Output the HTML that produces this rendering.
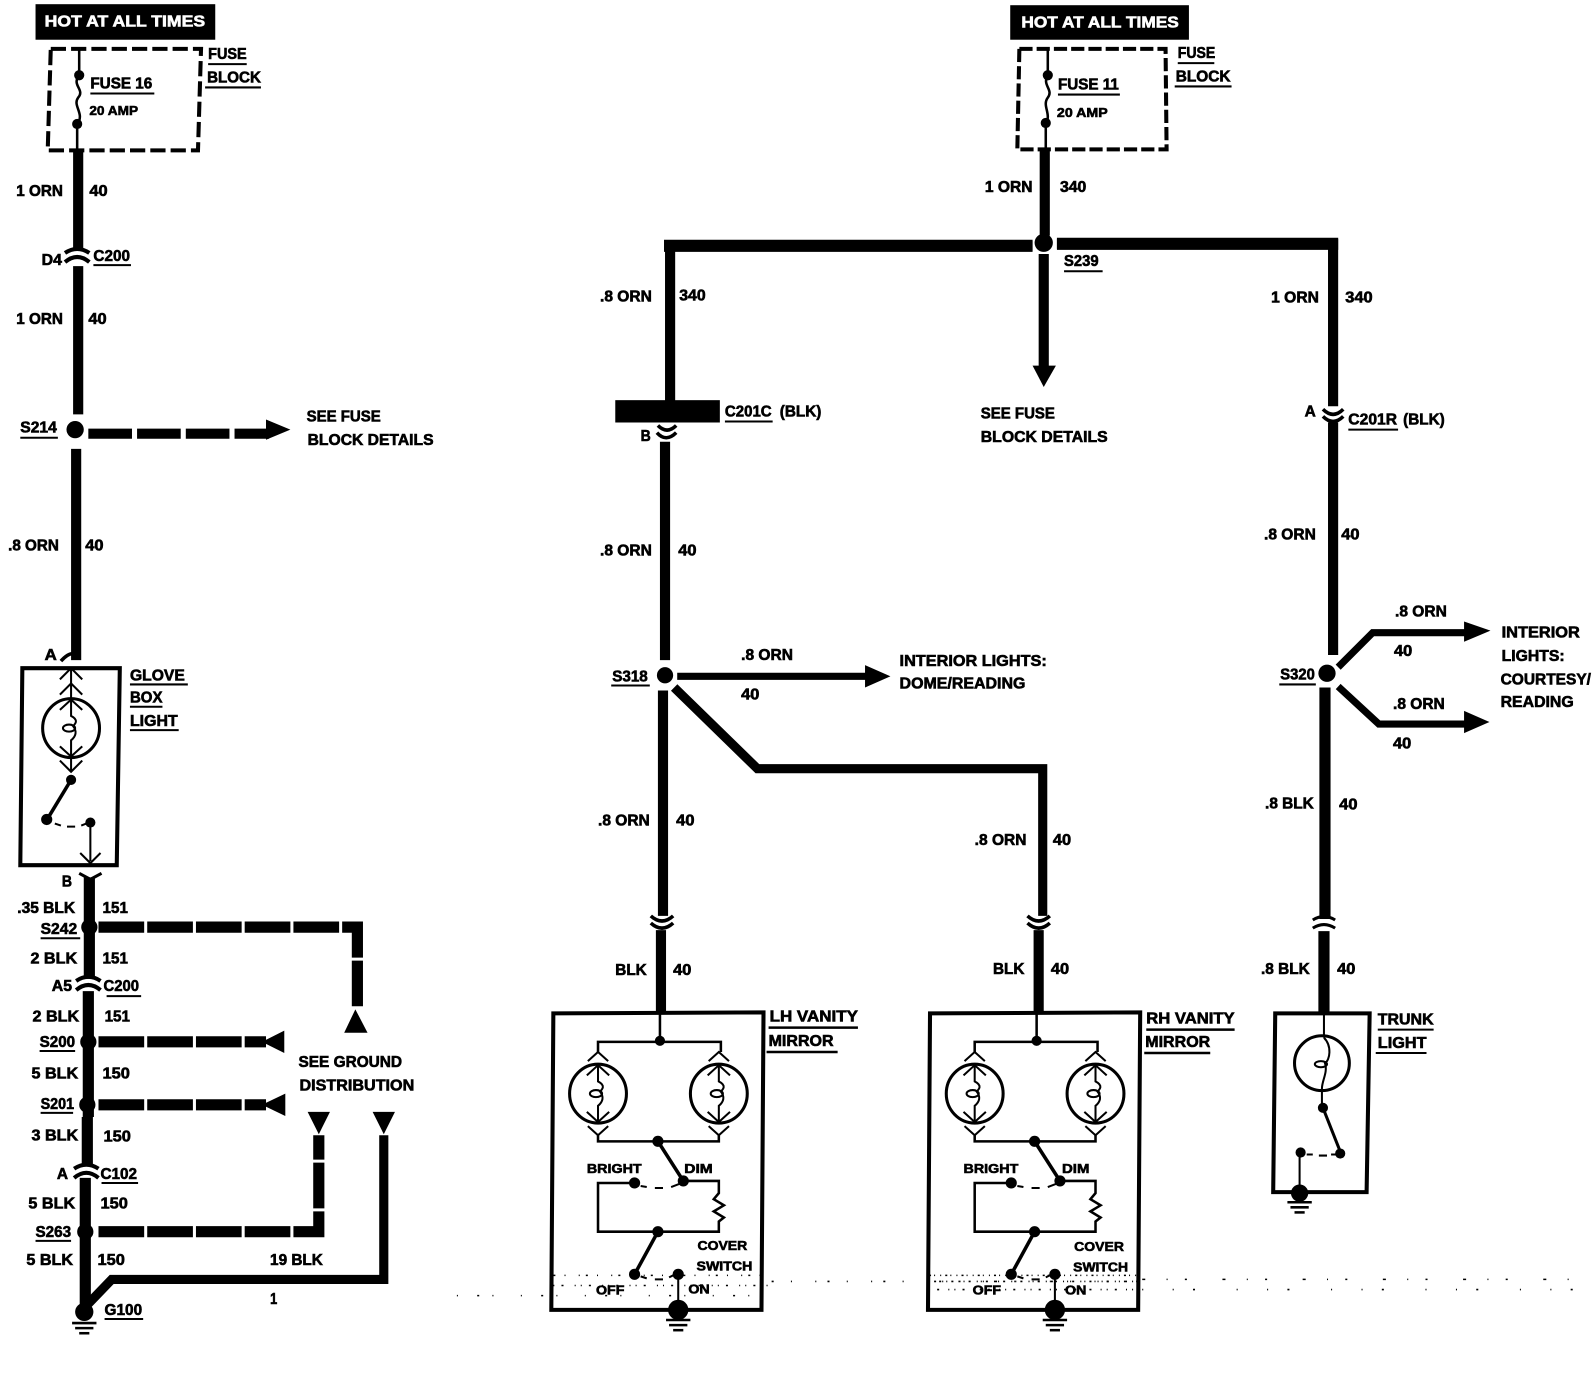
<!DOCTYPE html>
<html><head><meta charset="utf-8"><style>
html,body{margin:0;padding:0;background:#fff}
svg{display:block}
text{font-family:"Liberation Sans",sans-serif;font-weight:bold;font-size:15px;fill:#000;stroke:#000;stroke-width:.6}
.w{fill:#fff;stroke:#fff}
.s{font-size:13px}
.b{fill:none;stroke:#000}
</style></head><body>
<svg xmlns="http://www.w3.org/2000/svg" width="1592" height="1376" viewBox="0 0 1568 1355">
<defs>
<g id="conn" fill="none" stroke="#000" stroke-width="4"><path d="M-12 -2Q0 -10 12 -2"/><path d="M-12 7Q0 -3 12 7"/></g>
<g id="chevU" fill="none" stroke="#000" stroke-width="2"><path d="M-11 9L0 -2L11 9M0 -2V16"/></g>
<g id="chevD" fill="none" stroke="#000" stroke-width="2"><path d="M-11 -9L0 2L11 -9M0 2V-16"/></g>
<g id="gnd" stroke="#000" fill="none"><path d="M-12 0H12" stroke-width="2.5"/><path d="M-9 5H9" stroke-width="2.5"/><path d="M-5 10H5" stroke-width="2.5"/></g>
<g id="bulb" fill="none" stroke="#000"><ellipse cx="0" cy="0" rx="28" ry="29" stroke-width="3"/><path d="M0 -27V-12C8 -8 4 -4 2 -2C6 3 5 8 0 12V27" stroke-width="2"/><ellipse cx="-2" cy="0" rx="6" ry="3.5" stroke-width="2"/><path d="M-11 -18L0 -28L11 -18M-11 18L0 28L11 18" stroke-width="2"/></g>
<g id="van" fill="none" stroke="#000">
<path d="M2 0L209 -1L207 292L0 292Z" stroke-width="4"/>
<path d="M107 0V28M46 38V28H167V38" stroke-width="2.5"/>
<path d="M46 120V126H165V120" stroke-width="2.5"/>
<path d="M36 47L46 38L56 47M155 47L165 38L175 47M36 111L46 120L56 111M155 111L165 120L175 111" stroke-width="2"/>
<use href="#bulb" x="46" y="79"/><use href="#bulb" x="165" y="79"/>
<circle cx="107" cy="27" r="5" fill="#000" stroke="none"/>
<circle cx="105" cy="126" r="5.5" fill="#000" stroke="none"/>
<path d="M105 126L130 165" stroke-width="3.5"/>
<circle cx="130" cy="165" r="5.5" fill="#000" stroke="none"/>
<circle cx="82" cy="167" r="5.5" fill="#000" stroke="none"/>
<path d="M88 170L94 171M102 172H110M118 171L126 168" stroke-width="2"/>
<path d="M82 167H46V215H165V205L170 201L160 195L170 189L160 183L165 177V165H130" stroke-width="2.5"/>
<circle cx="105" cy="215" r="5.5" fill="#000" stroke="none"/>
<path d="M105 215L82 257" stroke-width="3.5"/>
<circle cx="82" cy="257" r="5.5" fill="#000" stroke="none"/>
<circle cx="125" cy="257" r="5.5" fill="#000" stroke="none"/>
<path d="M88 259L94 261M102 262H110M116 260L122 257" stroke-width="2"/>
<path d="M125 257V290" stroke-width="2"/>
<circle cx="125" cy="292" r="10" fill="#000" stroke="none"/>
<use href="#gnd" x="125" y="302"/>
</g>
</defs>

<!-- LEFT -->
<rect x="35" y="4" width="177" height="35"/>
<text class="w" x="44" y="26" textLength="158" lengthAdjust="spacingAndGlyphs">HOT AT ALL TIMES</text>
<path class="b" d="M50 48H198L195 148H47Z" stroke-width="4" stroke-dasharray="15 5"/>
<path class="b" d="M78 48V74C70 84 84 88 77 96C71 104 84 112 76 122V148" stroke-width="2.5"/>
<circle cx="78" cy="74" r="5"/><circle cx="76" cy="122" r="5"/>
<text x="89" y="87" textLength="61" lengthAdjust="spacingAndGlyphs">FUSE 16</text><path class="b" d="M89 92H152" stroke-width="2"/>
<text class="s" x="88" y="113" textLength="48" lengthAdjust="spacingAndGlyphs">20 AMP</text>
<text x="205" y="58" textLength="38" lengthAdjust="spacingAndGlyphs">FUSE</text><path class="b" d="M205 63H243" stroke-width="2"/>
<text x="204" y="81" textLength="53" lengthAdjust="spacingAndGlyphs">BLOCK</text><path class="b" d="M202 86H257" stroke-width="2"/>
<path class="b" d="M77 148V245M77 262V408" stroke-width="10"/>
<use href="#conn" x="76" y="251"/>
<circle cx="74" cy="423" r="8.5"/>
<path class="b" d="M75 442V650" stroke-width="10"/>
<path class="b" d="M87 427H265" stroke-width="10" stroke-dasharray="43 5"/>
<path d="M262 413L286 423L262 433Z"/>
<text x="16" y="193" textLength="46" lengthAdjust="spacingAndGlyphs">1 ORN</text><text x="88" y="193" textLength="18" lengthAdjust="spacingAndGlyphs">40</text>
<text x="41" y="261" textLength="20" lengthAdjust="spacingAndGlyphs">D4</text><text x="92" y="257" textLength="36" lengthAdjust="spacingAndGlyphs">C200</text><path class="b" d="M92 261H129" stroke-width="2"/>
<text x="16" y="319" textLength="46" lengthAdjust="spacingAndGlyphs">1 ORN</text><text x="87" y="319" textLength="18" lengthAdjust="spacingAndGlyphs">40</text>
<text x="20" y="426" textLength="36" lengthAdjust="spacingAndGlyphs">S214</text><path class="b" d="M20 431H57" stroke-width="2"/>
<text x="8" y="542" textLength="50" lengthAdjust="spacingAndGlyphs">.8 ORN</text><text x="84" y="542" textLength="18" lengthAdjust="spacingAndGlyphs">40</text>
<text x="302" y="415" textLength="73" lengthAdjust="spacingAndGlyphs">SEE FUSE</text><text x="303" y="438" textLength="124" lengthAdjust="spacingAndGlyphs">BLOCK DETAILS</text>

<!-- Glove box -->
<path class="b" d="M22 658H118L115 852H20Z" stroke-width="4"/>
<path class="b" d="M60 651Q68 642 74 644" stroke-width="3.5"/>
<text x="44" y="650" textLength="12" lengthAdjust="spacingAndGlyphs">A</text>
<use href="#chevU" x="70" y="660"/><use href="#chevU" x="70" y="675"/>
<use href="#bulb" x="70" y="717"/>
<use href="#chevD" x="70" y="758"/>
<circle cx="70" cy="768" r="5"/><path class="b" d="M70 768L47 806" stroke-width="3.5"/>
<circle cx="46" cy="807" r="5.5"/><circle cx="89" cy="810" r="5"/>
<path class="b" d="M54 811L60 813M66 814H74M80 813L85 811" stroke-width="2"/>
<path class="b" d="M89 810V848M79 840L89 850L99 840" stroke-width="2"/>
<path class="b" d="M78 860L89 866L100 860" stroke-width="3"/>
<text x="61" y="873" textLength="10" lengthAdjust="spacingAndGlyphs">B</text>

<path class="b" d="M88 864V964M87 976V1100M86 1100V1148M84 1160V1290" stroke-width="11"/>
<use href="#conn" x="87" y="968"/><use href="#conn" x="85" y="1153"/>
<circle cx="88" cy="913" r="8"/><circle cx="87" cy="1026" r="8"/><circle cx="86" cy="1088" r="8"/><circle cx="84" cy="1213" r="8"/>
<circle cx="83" cy="1292" r="9"/><use href="#gnd" x="83" y="1303"/>
<path class="b" d="M97 913H352V993" stroke-width="11" stroke-dasharray="45 3"/>
<path d="M350 994L339 1017H362Z"/>
<path class="b" d="M97 1026H262" stroke-width="11" stroke-dasharray="45 3"/><path d="M258 1026L280 1015V1037Z"/>
<path class="b" d="M97 1088H262" stroke-width="11" stroke-dasharray="45 3"/><path d="M258 1088L281 1077V1099Z"/>
<path class="b" d="M97 1213H314V1118" stroke-width="11" stroke-dasharray="45 3"/><path d="M303 1095H325L314 1117Z"/>
<path class="b" d="M85 1286L110 1260H378V1118" stroke-width="9"/><path d="M367 1095H389L378 1117Z"/>

<text x="17" y="899" textLength="57" lengthAdjust="spacingAndGlyphs">.35 BLK</text><text x="101" y="899" textLength="25" lengthAdjust="spacingAndGlyphs">151</text>
<text x="40" y="920" textLength="36" lengthAdjust="spacingAndGlyphs">S242</text><path class="b" d="M40 924H79" stroke-width="2"/>
<text x="30" y="949" textLength="46" lengthAdjust="spacingAndGlyphs">2 BLK</text><text x="101" y="949" textLength="25" lengthAdjust="spacingAndGlyphs">151</text>
<text x="51" y="976" textLength="20" lengthAdjust="spacingAndGlyphs">A5</text><text x="102" y="976" textLength="35" lengthAdjust="spacingAndGlyphs">C200</text><path class="b" d="M105 981H139" stroke-width="2"/>
<text x="32" y="1006" textLength="46" lengthAdjust="spacingAndGlyphs">2 BLK</text><text x="103" y="1006" textLength="25" lengthAdjust="spacingAndGlyphs">151</text>
<text x="39" y="1031" textLength="35" lengthAdjust="spacingAndGlyphs">S200</text><path class="b" d="M39 1035H74" stroke-width="2"/>
<text x="31" y="1062" textLength="46" lengthAdjust="spacingAndGlyphs">5 BLK</text><text x="101" y="1062" textLength="27" lengthAdjust="spacingAndGlyphs">150</text>
<text x="40" y="1092" textLength="33" lengthAdjust="spacingAndGlyphs">S201</text><path class="b" d="M40 1096H72" stroke-width="2"/>
<text x="31" y="1123" textLength="46" lengthAdjust="spacingAndGlyphs">3 BLK</text><text x="102" y="1124" textLength="27" lengthAdjust="spacingAndGlyphs">150</text>
<text x="56" y="1161" textLength="11" lengthAdjust="spacingAndGlyphs">A</text><text x="99" y="1161" textLength="36" lengthAdjust="spacingAndGlyphs">C102</text><path class="b" d="M100 1165H136" stroke-width="2"/>
<text x="28" y="1190" textLength="46" lengthAdjust="spacingAndGlyphs">5 BLK</text><text x="99" y="1190" textLength="27" lengthAdjust="spacingAndGlyphs">150</text>
<text x="35" y="1218" textLength="35" lengthAdjust="spacingAndGlyphs">S263</text><path class="b" d="M35 1222H70" stroke-width="2"/>
<text x="26" y="1246" textLength="46" lengthAdjust="spacingAndGlyphs">5 BLK</text><text x="96" y="1246" textLength="27" lengthAdjust="spacingAndGlyphs">150</text>
<text x="266" y="1246" textLength="52" lengthAdjust="spacingAndGlyphs">19 BLK</text><text x="266" y="1284" textLength="7" lengthAdjust="spacingAndGlyphs">1</text>
<text x="103" y="1295" textLength="37" lengthAdjust="spacingAndGlyphs">G100</text><path class="b" d="M103 1299H141" stroke-width="2"/>
<text x="294" y="1051" textLength="102" lengthAdjust="spacingAndGlyphs">SEE GROUND</text><text x="295" y="1074" textLength="113" lengthAdjust="spacingAndGlyphs">DISTRIBUTION</text>
<text x="128" y="670" textLength="54" lengthAdjust="spacingAndGlyphs">GLOVE</text><path class="b" d="M128 674H185" stroke-width="2"/>
<text x="128" y="692" textLength="32" lengthAdjust="spacingAndGlyphs">BOX</text><path class="b" d="M128 696H160" stroke-width="2"/>
<text x="128" y="715" textLength="47" lengthAdjust="spacingAndGlyphs">LIGHT</text><path class="b" d="M128 719H176" stroke-width="2"/>

<!-- MIDDLE TOP -->
<rect x="995" y="5" width="176" height="34"/>
<text class="w" x="1006" y="27" textLength="155" lengthAdjust="spacingAndGlyphs">HOT AT ALL TIMES</text>
<path class="b" d="M1004 48H1148L1149 147H1002Z" stroke-width="4" stroke-dasharray="13 4"/>
<path class="b" d="M1032 48V74C1026 84 1038 88 1032 96C1026 104 1036 112 1030 122V148" stroke-width="2.5"/>
<circle cx="1032" cy="74" r="5"/><circle cx="1030" cy="121" r="5"/>
<text x="1042" y="88" textLength="60" lengthAdjust="spacingAndGlyphs">FUSE 11</text><path class="b" d="M1042 93H1103" stroke-width="2"/>
<text class="s" x="1041" y="115" textLength="50" lengthAdjust="spacingAndGlyphs">20 AMP</text>
<text x="1160" y="57" textLength="37" lengthAdjust="spacingAndGlyphs">FUSE</text><path class="b" d="M1160 62H1196" stroke-width="2"/>
<text x="1158" y="80" textLength="54" lengthAdjust="spacingAndGlyphs">BLOCK</text><path class="b" d="M1157 85H1213" stroke-width="2"/>
<path class="b" d="M1029 148V232" stroke-width="10"/>
<circle cx="1028" cy="239" r="9"/>
<path class="b" d="M1017 242H660V395" stroke-width="10"/><path d="M654 236H1017V248H654Z"/>
<path class="b" d="M1041 240H1313V400" stroke-width="10"/><path d="M1041 234H1318V246H1041Z"/>
<path class="b" d="M1028 250V362" stroke-width="10"/><path d="M1017 360H1040L1028 381Z"/>
<text x="970" y="189" textLength="47" lengthAdjust="spacingAndGlyphs">1 ORN</text><text x="1044" y="189" textLength="26" lengthAdjust="spacingAndGlyphs">340</text>
<text x="1048" y="262" textLength="34" lengthAdjust="spacingAndGlyphs">S239</text><path class="b" d="M1048 267H1086" stroke-width="2"/>
<text x="591" y="297" textLength="51" lengthAdjust="spacingAndGlyphs">.8 ORN</text><text x="669" y="296" textLength="26" lengthAdjust="spacingAndGlyphs">340</text>
<text x="1252" y="298" textLength="47" lengthAdjust="spacingAndGlyphs">1 ORN</text><text x="1325" y="298" textLength="27" lengthAdjust="spacingAndGlyphs">340</text>
<rect x="606" y="394" width="103" height="22"/>
<text x="714" y="410" textLength="46" lengthAdjust="spacingAndGlyphs">C201C</text><text x="768" y="410" textLength="41" lengthAdjust="spacingAndGlyphs">(BLK)</text><path class="b" d="M714 415H761" stroke-width="2"/>
<path class="b" d="M648 419Q657 428 666 419M647 426Q656 436 666 426" stroke-width="3.5"/>
<text x="631" y="434" textLength="10" lengthAdjust="spacingAndGlyphs">B</text>
<text x="966" y="412" textLength="73" lengthAdjust="spacingAndGlyphs">SEE FUSE</text><text x="966" y="435" textLength="125" lengthAdjust="spacingAndGlyphs">BLOCK DETAILS</text>
<path class="b" d="M1303 403Q1313 413 1323 403M1303 410Q1313 420 1323 410" stroke-width="3.5"/>
<text x="1285" y="410" textLength="11" lengthAdjust="spacingAndGlyphs">A</text>
<text x="1328" y="418" textLength="48" lengthAdjust="spacingAndGlyphs">C201R</text><text x="1382" y="418" textLength="41" lengthAdjust="spacingAndGlyphs">(BLK)</text><path class="b" d="M1328 423H1377" stroke-width="2"/>

<!-- S318 column -->
<path class="b" d="M655 435V650" stroke-width="10"/>
<circle cx="655" cy="665" r="8"/>
<path class="b" d="M653 680V902M651 916V998" stroke-width="10"/>
<path class="b" d="M641 902Q652 912 663 902M641 909Q652 919 663 909" stroke-width="3.5"/>
<path class="b" d="M667 666H855" stroke-width="7" stroke="#222"/><path d="M852 655L877 666L852 677Z"/>
<path class="b" d="M664 677L746 757H1027V902" stroke-width="9"/>
<path class="b" d="M1023 916V998" stroke-width="10"/>
<path class="b" d="M1012 902Q1023 912 1034 902M1012 909Q1023 919 1034 909" stroke-width="3.5"/>
<text x="591" y="547" textLength="51" lengthAdjust="spacingAndGlyphs">.8 ORN</text><text x="668" y="547" textLength="18" lengthAdjust="spacingAndGlyphs">40</text>
<text x="603" y="671" textLength="35" lengthAdjust="spacingAndGlyphs">S318</text><path class="b" d="M602 675H640" stroke-width="2"/>
<text x="730" y="650" textLength="51" lengthAdjust="spacingAndGlyphs">.8 ORN</text><text x="730" y="689" textLength="18" lengthAdjust="spacingAndGlyphs">40</text>
<text x="886" y="656" textLength="145" lengthAdjust="spacingAndGlyphs">INTERIOR LIGHTS:</text><text x="886" y="678" textLength="124" lengthAdjust="spacingAndGlyphs">DOME/READING</text>
<text x="589" y="813" textLength="51" lengthAdjust="spacingAndGlyphs">.8 ORN</text><text x="666" y="813" textLength="18" lengthAdjust="spacingAndGlyphs">40</text>
<text x="960" y="832" textLength="51" lengthAdjust="spacingAndGlyphs">.8 ORN</text><text x="1037" y="832" textLength="18" lengthAdjust="spacingAndGlyphs">40</text>
<text x="606" y="960" textLength="31" lengthAdjust="spacingAndGlyphs">BLK</text><text x="663" y="960" textLength="18" lengthAdjust="spacingAndGlyphs">40</text>
<text x="978" y="959" textLength="31" lengthAdjust="spacingAndGlyphs">BLK</text><text x="1035" y="959" textLength="18" lengthAdjust="spacingAndGlyphs">40</text>

<!-- Vanity boxes -->
<use href="#van" x="543" y="998"/>
<use href="#van" x="914" y="998"/>
<text class="s" x="578" y="1155" textLength="54" lengthAdjust="spacingAndGlyphs">BRIGHT</text><text class="s" x="674" y="1155" textLength="28" lengthAdjust="spacingAndGlyphs">DIM</text>
<text class="s" x="687" y="1231" textLength="49" lengthAdjust="spacingAndGlyphs">COVER</text><text class="s" x="686" y="1251" textLength="55" lengthAdjust="spacingAndGlyphs">SWITCH</text>
<text class="s" x="587" y="1275" textLength="28" lengthAdjust="spacingAndGlyphs">OFF</text><text class="s" x="678" y="1274" textLength="21" lengthAdjust="spacingAndGlyphs">ON</text>
<text class="s" x="949" y="1155" textLength="54" lengthAdjust="spacingAndGlyphs">BRIGHT</text><text class="s" x="1046" y="1155" textLength="27" lengthAdjust="spacingAndGlyphs">DIM</text>
<text class="s" x="1058" y="1232" textLength="49" lengthAdjust="spacingAndGlyphs">COVER</text><text class="s" x="1057" y="1252" textLength="54" lengthAdjust="spacingAndGlyphs">SWITCH</text>
<text class="s" x="958" y="1275" textLength="28" lengthAdjust="spacingAndGlyphs">OFF</text><text class="s" x="1049" y="1275" textLength="21" lengthAdjust="spacingAndGlyphs">ON</text>
<text x="758" y="1006" textLength="87" lengthAdjust="spacingAndGlyphs">LH VANITY</text><path class="b" d="M757 1012H845" stroke-width="2.5"/>
<text x="757" y="1030" textLength="64" lengthAdjust="spacingAndGlyphs">MIRROR</text><path class="b" d="M755 1036H825" stroke-width="2.5"/>
<text x="1129" y="1008" textLength="87" lengthAdjust="spacingAndGlyphs">RH VANITY</text><path class="b" d="M1129 1014H1216" stroke-width="2.5"/>
<text x="1128" y="1031" textLength="64" lengthAdjust="spacingAndGlyphs">MIRROR</text><path class="b" d="M1127 1037H1192" stroke-width="2.5"/>

<!-- RIGHT -->
<path class="b" d="M1313 416V645" stroke-width="10"/>
<circle cx="1307" cy="663" r="8.5"/>
<path class="b" d="M1305 677V905M1304 917V998" stroke-width="11"/>
<path class="b" d="M1293 906Q1304 899 1315 906M1293 914Q1304 907 1315 914" stroke-width="3"/>
<path class="b" d="M1318 657L1352 623H1445" stroke-width="7"/><path d="M1442 612L1468 621L1442 632Z"/>
<path class="b" d="M1318 676L1358 713H1445" stroke-width="7"/><path d="M1442 700L1467 711L1442 722Z"/>
<text x="1245" y="531" textLength="51" lengthAdjust="spacingAndGlyphs">.8 ORN</text><text x="1321" y="531" textLength="18" lengthAdjust="spacingAndGlyphs">40</text>
<text x="1374" y="607" textLength="51" lengthAdjust="spacingAndGlyphs">.8 ORN</text><text x="1373" y="646" textLength="18" lengthAdjust="spacingAndGlyphs">40</text>
<text x="1372" y="698" textLength="51" lengthAdjust="spacingAndGlyphs">.8 ORN</text><text x="1372" y="737" textLength="18" lengthAdjust="spacingAndGlyphs">40</text>
<text x="1479" y="628" textLength="77" lengthAdjust="spacingAndGlyphs">INTERIOR</text><text x="1479" y="651" textLength="62" lengthAdjust="spacingAndGlyphs">LIGHTS:</text>
<text x="1478" y="674" textLength="89" lengthAdjust="spacingAndGlyphs">COURTESY/</text><text x="1478" y="696" textLength="72" lengthAdjust="spacingAndGlyphs">READING</text>
<text x="1261" y="669" textLength="34" lengthAdjust="spacingAndGlyphs">S320</text><path class="b" d="M1260 674H1296" stroke-width="2"/>
<text x="1246" y="796" textLength="48" lengthAdjust="spacingAndGlyphs">.8 BLK</text><text x="1319" y="797" textLength="18" lengthAdjust="spacingAndGlyphs">40</text>
<text x="1242" y="959" textLength="48" lengthAdjust="spacingAndGlyphs">.8 BLK</text><text x="1317" y="959" textLength="18" lengthAdjust="spacingAndGlyphs">40</text>

<path class="b" d="M1256 998H1349L1346 1174H1254Z" stroke-width="4"/>
<path class="b" d="M1304 998V1022M1302 1072V1091" stroke-width="2"/>
<circle class="b" cx="1302" cy="1047" r="27" stroke-width="3" fill="none"/>
<path class="b" d="M1304 1022C1312 1030 1310 1044 1305 1047C1308 1056 1302 1064 1302 1072" stroke-width="2"/>
<ellipse class="b" cx="1301" cy="1048" rx="6" ry="3" stroke-width="2"/>
<circle cx="1303" cy="1091" r="5"/><path class="b" d="M1303 1091L1320 1134" stroke-width="3"/>
<circle cx="1320" cy="1136" r="5"/><circle cx="1281" cy="1135" r="5"/>
<path class="b" d="M1287 1137H1293M1299 1138H1307M1311 1137H1316" stroke-width="2"/>
<path class="b" d="M1280 1135V1172" stroke-width="2"/>
<circle cx="1280" cy="1175" r="8.5"/><use href="#gnd" x="1280" y="1184"/>
<text x="1357" y="1009" textLength="55" lengthAdjust="spacingAndGlyphs">TRUNK</text><path class="b" d="M1357 1014H1412" stroke-width="2"/>
<text x="1357" y="1032" textLength="48" lengthAdjust="spacingAndGlyphs">LIGHT</text><path class="b" d="M1355 1037H1405" stroke-width="2"/>

<!-- speckle noise -->
<g class="b" fill="none" stroke-width="1.5">
<path d="M450 1276H760" stroke-dasharray="1 19 2 13 1 27"/>
<path d="M545 1256H760" stroke-dasharray="2 9 1 13 1 6"/>
<path d="M545 1266H760" stroke-dasharray="1 7 2 11 1 5"/>
<path d="M760 1262H1110" stroke-dasharray="2 17 1 23 1 11"/>
<path d="M915 1256H1120" stroke-dasharray="2 3 1 5 1 4"/>
<path d="M915 1262H1120" stroke-dasharray="1 4 2 6 1 3"/>
<path d="M915 1270H1120" stroke-dasharray="1 7 2 9 1 5"/>
<path d="M1125 1260H1560" stroke-dasharray="3 21 1 17 2 35"/>
<path d="M1125 1270H1560" stroke-dasharray="1 29 1 19 2 41"/>
</g>
</svg>
</body></html>
